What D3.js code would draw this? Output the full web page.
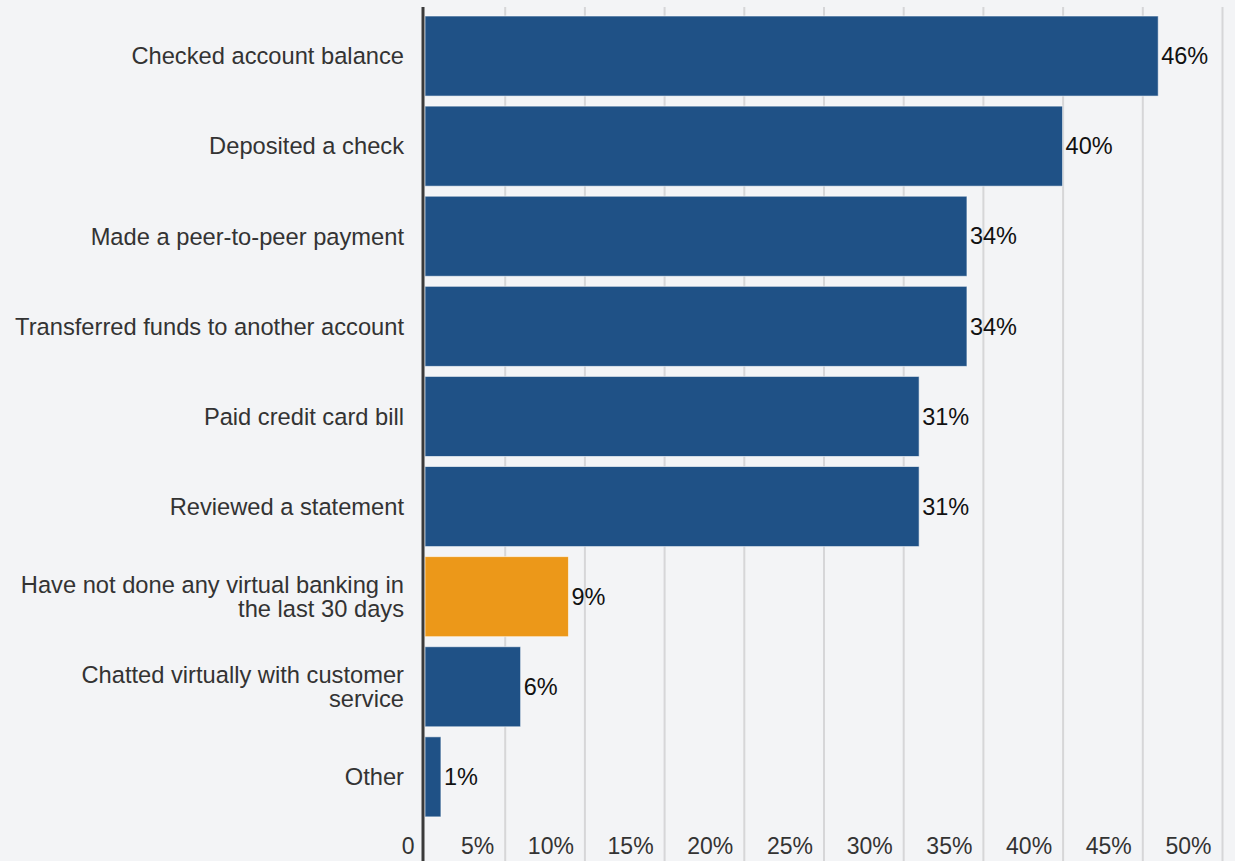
<!DOCTYPE html>
<html>
<head>
<meta charset="utf-8">
<script src="https://cdn.jsdelivr.net/npm/d3@7"></script>
<style>
  html, body { margin: 0; padding: 0; background: #f3f4f6; }
  svg { display: block; }
  text { font-family: "Liberation Sans", Arial, Helvetica, sans-serif; }
</style>
</head>
<body>
<svg id="chart" width="1235" height="861"></svg>
<script>
// data
const categories = [
  "Checked account balance",
  "Deposited a check",
  "Made a peer-to-peer payment",
  "Transferred funds to another account",
  "Paid credit card bill",
  "Reviewed a statement",
  "Have not done any virtual banking in|the last 30 days",
  "Chatted virtually with customer|service",
  "Other"
];
const values = [46, 40, 34, 34, 31, 31, 9, 6, 1];
const highlighted = [false, false, false, false, false, false, true, false, false];
const tickValues = [0, 5, 10, 15, 20, 25, 30, 35, 40, 45, 50];
const tickLabels = ["0", "5%", "10%", "15%", "20%", "25%", "30%", "35%", "40%", "45%", "50%"];

const W = 1235, H = 861;
const margin = { top: 7, left: 425, right: 13 };
const svg = d3.select("#chart");

svg.append("rect").attr("width", W).attr("height", H).attr("fill", "#f3f4f6");

const x = d3.scaleLinear().domain([0, 50]).range([margin.left, W - margin.right]);
const y = d3.scaleBand()
  .domain(categories)
  .range([11, 11 + 90.1 * 9])
  .paddingInner(0.111)
  .paddingOuter(0.0555);

// gridlines + tick labels from the axis generator
const xAxis = d3.axisBottom(x)
  .tickValues(tickValues)
  .tickSize(H - margin.top)
  .tickFormat((d, i) => tickLabels[i]);

const gx = svg.append("g")
  .attr("transform", `translate(0, ${margin.top})`)
  .call(xAxis);
gx.select(".domain").remove();
gx.selectAll(".tick line")
  .attr("stroke", "#d6d6d8")
  .attr("stroke-width", 2)
  .filter(d => d === 0).remove();
gx.selectAll(".tick text")
  .attr("y", 0)
  .attr("dy", 0)
  .attr("transform", `translate(-11, ${854 - margin.top})`)
  .attr("text-anchor", "end")
  .attr("fill", "#333")
  .style("font-size", "23px");

// bars
svg.append("g")
  .selectAll("rect")
  .data(categories)
  .join("rect")
  .attr("x", x(0))
  .attr("y", d => y(d))
  .attr("width", (d, i) => x(values[i]) - x(0))
  .attr("height", y.bandwidth())
  .attr("fill", (d, i) => highlighted[i] ? "#ec9819" : "#1f5186")
  .attr("stroke", "#ffffff")
  .attr("stroke-opacity", 0.6)
  .attr("stroke-width", 1);

// value labels
svg.append("g")
  .selectAll("text")
  .data(categories)
  .join("text")
  .attr("x", (d, i) => x(values[i]) + 3)
  .attr("y", d => y(d) + y.bandwidth() / 2)
  .attr("dy", "0.35em")
  .attr("fill", "#111")
  .style("font-size", "23.5px")
  .text((d, i) => values[i] + "%");

// category labels (two-line ones split on "|")
const fs = 23.7;
const labels = svg.append("g")
  .selectAll("text")
  .data(categories)
  .join("text")
  .attr("x", margin.left - 21)
  .attr("y", d => y(d) + y.bandwidth() / 2)
  .attr("text-anchor", "end")
  .attr("fill", "#333")
  .style("font-size", fs + "px");

labels.each(function (d) {
  const lines = d.split("|");
  const t = d3.select(this);
  const lh = 23.5;
  lines.forEach((ln, j) => {
    t.append("tspan")
      .attr("x", margin.left - 21)
      .attr("dy", j === 0 ? (0.35 * fs - (lines.length - 1) * lh / 2) + "px" : lh + "px")
      .text(ln);
  });
});

// y axis line
svg.append("line")
  .attr("x1", 423).attr("x2", 423)
  .attr("y1", margin.top).attr("y2", H)
  .attr("stroke", "#3a3a3a")
  .attr("stroke-width", 3);
</script>
</body>
</html>
